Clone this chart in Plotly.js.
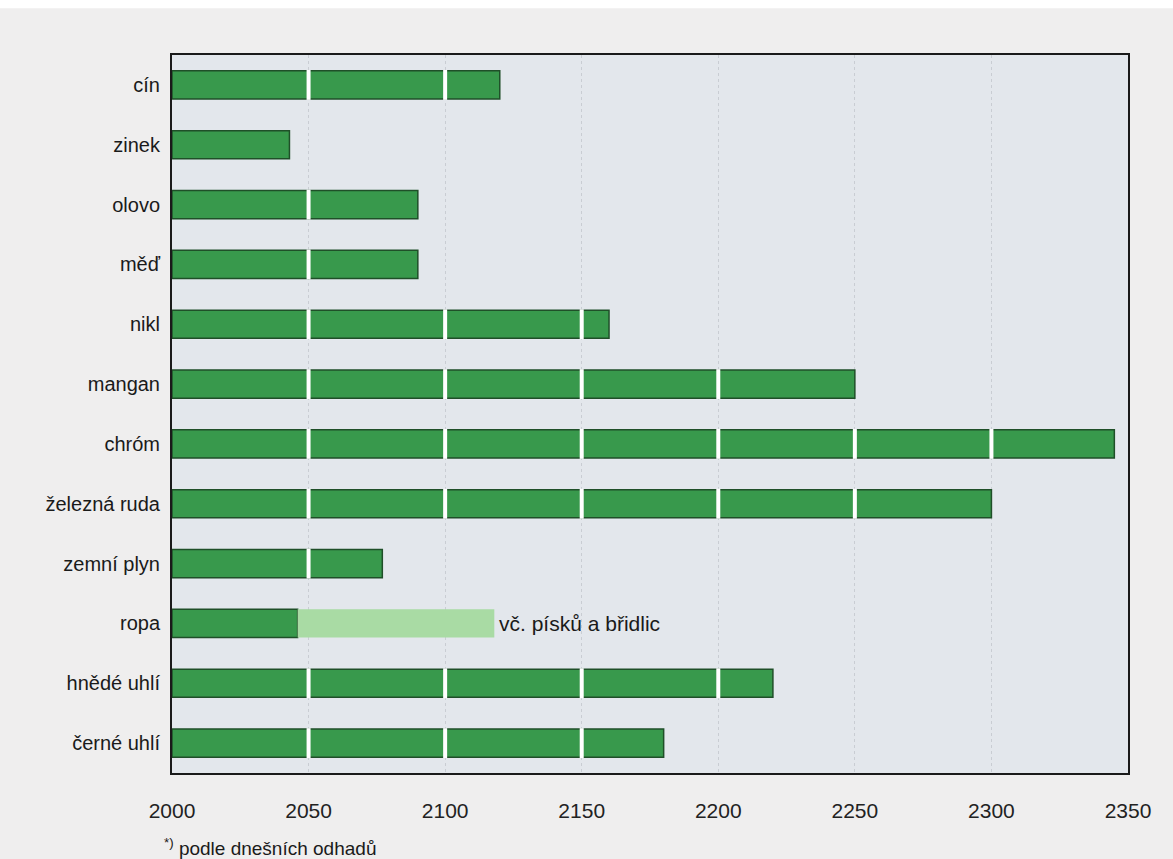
<!DOCTYPE html>
<html>
<head>
<meta charset="utf-8">
<script src="https://cdn.plot.ly/plotly-3.0.1.min.js"></script>
<style>html,body{margin:0;padding:0;background:#efeeee;}#chart{width:1173px;height:859px;}</style>
</head>
<body>
<div id="chart"></div>
<script>
const categories = ["cín","zinek","olovo","měď","nikl","mangan","chróm","železná ruda","zemní plyn","ropa","hnědé uhlí","černé uhlí"];
const endYears   = [2120, 2043, 2090, 2090, 2160, 2250, 2345, 2300, 2077, 2046, 2220, 2180];
const extraYears = [0, 0, 0, 0, 0, 0, 0, 0, 0, 72, 0, 0];
const startYear = 2000;
const tickYears = [2000, 2050, 2100, 2150, 2200, 2250, 2300, 2350];
const noteText = "vč. písků a břidlic";
const footnote = "<sup>*)</sup> podle dnešních odhadů";

const baseLen = endYears.map(v => v - startYear);

const traces = [
  {type:'bar', orientation:'h', y:categories, x:baseLen, base:startYear,
   marker:{color:'#38994c', line:{color:'#1f4f28', width:1.5}}, width:0.47, hoverinfo:'none'},
  {type:'bar', orientation:'h', y:categories, x:extraYears, base:endYears,
   marker:{color:'#a9dba4', line:{width:0}}, width:0.47, hoverinfo:'none'}
];

const shapes = [];
categories.forEach((c, i) => {
  tickYears.forEach(t => {
    if (t > startYear && t < endYears[i]) {
      shapes.push({type:'line', xref:'x', yref:'y', x0:t, x1:t, y0:i-0.25, y1:i+0.25,
        line:{color:'#ffffff', width:4}, layer:'above'});
    }
  });
});
// white strip at the top of the scan
shapes.push({type:'rect', xref:'paper', yref:'paper', x0:-0.3, x1:1.1, y0:1.065, y1:1.2,
  fillcolor:'#ffffff', line:{width:0}, layer:'below'});

const ropaIdx = categories.indexOf("ropa");
const layout = {
  width:1173, height:859,
  margin:{l:172, r:45, t:55, b:86},
  paper_bgcolor:'#efeeee', plot_bgcolor:'#e3e7ec',
  barmode:'overlay', showlegend:false,
  font:{family:'"Liberation Sans Narrow", "Liberation Sans", Arial, sans-serif', color:'#1a1a1a'},
  xaxis:{range:[startYear, 2350], tickvals:tickYears, ticktext:tickYears.map(String),
    showgrid:true, gridcolor:'#c9cdd3', griddash:'dot', gridwidth:1,
    showline:true, mirror:true, linecolor:'#1a1a1a', linewidth:2,
    zeroline:false, ticks:'', ticklabelstandoff:18,
    tickfont:{size:21, family:'"Liberation Sans", Arial, sans-serif', color:'#222'}},
  yaxis:{type:'category', categoryorder:'array', categoryarray:categories, autorange:'reversed',
    showgrid:false, showline:true, mirror:true, linecolor:'#1a1a1a', linewidth:2,
    ticks:'', ticklabelstandoff:6, tickfont:{size:20, color:'#1a1a1a'}},
  shapes:shapes,
  annotations:[
    {x:endYears[ropaIdx]+extraYears[ropaIdx]+1, y:categories[ropaIdx], xref:'x', yref:'y',
     text:noteText, showarrow:false, xanchor:'left', font:{size:21, color:'#1a1a1a'}},
    {x:-0.01, y:-0.103, xref:'paper', yref:'paper', text:footnote, showarrow:false,
     xanchor:'left', yanchor:'middle', font:{size:19, color:'#1a1a1a'}}
  ]
};
Plotly.newPlot('chart', traces, layout, {displayModeBar:false, staticPlot:true});
</script>
</body>
</html>
